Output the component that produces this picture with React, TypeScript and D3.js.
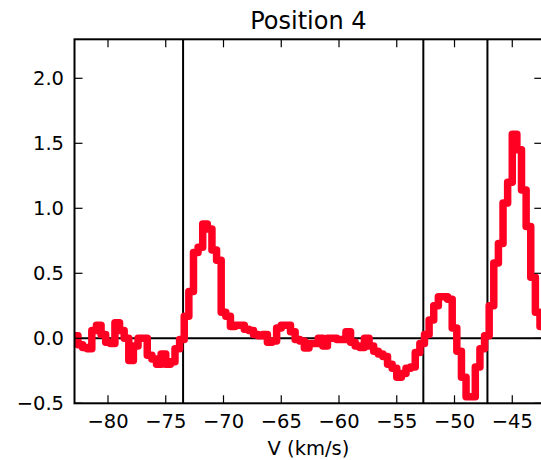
import React from "react";
import * as d3 from "d3";

const V_START = -83.0;
const CHANNEL = 0.4;
const spectrum: number[] = [
  0.02, -0.05, -0.07, -0.08, 0.06, 0.1, 0.03, -0.03, -0.04, 0.12,
  0.06, 0.0, -0.17, -0.06, 0.0, 0.0, -0.13, -0.16, -0.2, -0.12,
  -0.2, -0.18, -0.08, -0.01, 0.17, 0.36, 0.66, 0.7, 0.88, 0.84,
  0.68, 0.6, 0.2, 0.17, 0.09, 0.1, 0.1, 0.07, 0.06, 0.03,
  0.02, 0.03, -0.03, -0.02, 0.08, 0.1, 0.1, 0.05, -0.01, -0.02,
  -0.075, -0.04, -0.04, 0.0, -0.06, 0.0, 0.0, -0.01, -0.01, 0.05,
  -0.03, -0.06, -0.07, 0.0, -0.06, -0.1, -0.12, -0.14, -0.2, -0.23,
  -0.3, -0.27, -0.23, -0.22, -0.11, -0.04, 0.03, 0.14, 0.25, 0.32,
  0.32, 0.3, 0.08, -0.1, -0.3, -0.45, -0.45, -0.22, -0.08, 0.02,
  0.25, 0.58, 0.73, 1.04, 1.2, 1.57, 1.45, 1.14, 0.86, 0.47,
  0.2, 0.09,
];
const markerLines: number[] = [-73.5, -52.7, -47.15];
const xTicks: number[] = [-80, -75, -70, -65, -60, -55, -50, -45];
const yTicks: number[] = [-0.5, 0.0, 0.5, 1.0, 1.5, 2.0];
const X_DOMAIN: [number, number] = [-82.9, -42.4];
const Y_DOMAIN: [number, number] = [-0.5, 2.3];

const W = 541;
const H = 460;
const L = 74.5, R = 542.3, T = 39.3, B = 403.3;

const fmt = (v: number, d: number) => {
  const s = Math.abs(v).toFixed(d);
  return v < 0 ? "\u2212" + s : s;
};

export default function App() {
  const x = d3.scaleLinear().domain(X_DOMAIN).range([L, R]);
  const y = d3.scaleLinear().domain(Y_DOMAIN).range([B, T]);
  const pts: [number, number][] = spectrum.map((val, i) => [
    V_START + CHANNEL * i + CHANNEL / 2,
    val,
  ]);
  const line = d3
    .line<[number, number]>()
    .x((d) => x(d[0]))
    .y((d) => y(d[1]))
    .curve(d3.curveStep);
  const font = "DejaVu Sans, Liberation Sans, sans-serif";
  const tickLen = 8;
  return (
    <svg
      width={W}
      height={H}
      style={{ position: "fixed", left: 0, top: 0, background: "#fff" }}
      fontFamily={font}
    >
      <defs>
        <clipPath id="plot">
          <rect x={L} y={T} width={R - L} height={B - T} />
        </clipPath>
      </defs>
      <g clipPath="url(#plot)">
        <line x1={L} x2={R} y1={y(0)} y2={y(0)} stroke="#000" strokeWidth={2} />
        {markerLines.map((v) => (
          <line key={v} x1={x(v)} x2={x(v)} y1={T} y2={B} stroke="#000" strokeWidth={2} />
        ))}
        <path
          d={line(pts) || ""}
          fill="none"
          stroke="#ff0022"
          strokeWidth={7.5}
          strokeLinejoin="round"
          strokeLinecap="round"
        />
      </g>
      {xTicks.map((t) => (
        <g key={"x" + t}>
          <line x1={x(t)} x2={x(t)} y1={B} y2={B - tickLen} stroke="#000" strokeWidth={1.2} />
          <line x1={x(t)} x2={x(t)} y1={T} y2={T + tickLen} stroke="#000" strokeWidth={1.2} />
          <text x={x(t)} y={428} fontSize={19.5} textAnchor="middle">
            {fmt(t, 0)}
          </text>
        </g>
      ))}
      {yTicks.map((t) => (
        <g key={"y" + t}>
          <line x1={L} x2={L + tickLen} y1={y(t)} y2={y(t)} stroke="#000" strokeWidth={1.2} />
          <line x1={R} x2={R - tickLen} y1={y(t)} y2={y(t)} stroke="#000" strokeWidth={1.2} />
          <text x={64} y={y(t)} dy="0.36em" fontSize={19.5} textAnchor="end">
            {fmt(t, 1)}
          </text>
        </g>
      ))}
      <rect x={L} y={T} width={R - L} height={B - T} fill="none" stroke="#000" strokeWidth={2} />
      <text x={(L + R) / 2} y={455} fontSize={19.5} textAnchor="middle">
        V (km/s)
      </text>
      <text x={(L + R) / 2} y={28.5} fontSize={24} textAnchor="middle">
        Position 4
      </text>
    </svg>
  );
}
